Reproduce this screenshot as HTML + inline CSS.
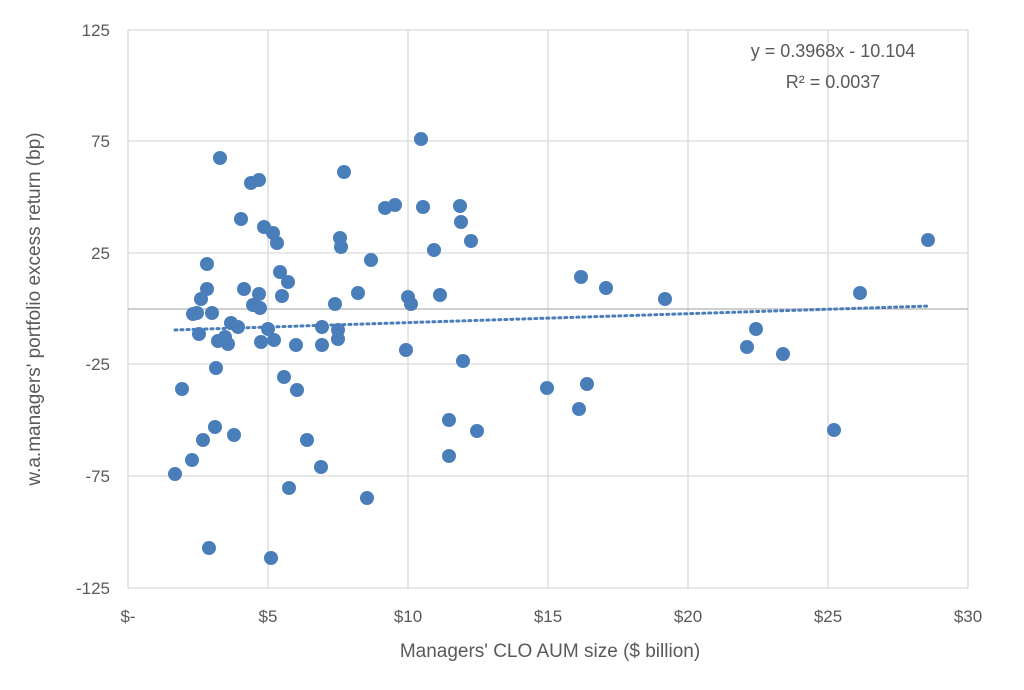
<!DOCTYPE html>
<html><head><meta charset="utf-8"><style>
body{margin:0;background:#fff;}
svg{display:block;font-family:"Liberation Sans",sans-serif;}
</style></head><body>
<svg width="1024" height="690" viewBox="0 0 1024 690">
<g stroke="#d9d9d9" stroke-width="1.3">
<line x1="128" y1="30" x2="968" y2="30"/><line x1="128" y1="141" x2="968" y2="141"/>
<line x1="128" y1="253" x2="968" y2="253"/>
<line x1="128" y1="364" x2="968" y2="364"/>
<line x1="128" y1="476" x2="968" y2="476"/>
<line x1="128" y1="588" x2="968" y2="588"/>
<line x1="268" y1="30" x2="268" y2="588"/><line x1="408" y1="30" x2="408" y2="588"/>
<line x1="548" y1="30" x2="548" y2="588"/><line x1="688" y1="30" x2="688" y2="588"/>
<line x1="828" y1="30" x2="828" y2="588"/><line x1="968" y1="30" x2="968" y2="588"/>
<line x1="128" y1="30" x2="128" y2="588"/>
</g>
<line x1="128" y1="309" x2="968" y2="309" stroke="#bfbfbf" stroke-width="1.5"/>
<g fill="#595959" font-size="17" text-anchor="end">
<text x="110" y="36">125</text><text x="110" y="147">75</text><text x="110" y="259">25</text>
<text x="110" y="370">-25</text><text x="110" y="482">-75</text><text x="110" y="594">-125</text>
</g>
<g fill="#595959" font-size="17" text-anchor="middle">
<text x="128" y="622">$-</text><text x="268" y="622">$5</text><text x="408" y="622">$10</text>
<text x="548" y="622">$15</text><text x="688" y="622">$20</text><text x="828" y="622">$25</text><text x="968" y="622">$30</text>
<text x="550" y="657" font-size="19">Managers' CLO AUM size ($ billion)</text>
<text transform="translate(40,309) rotate(-90)" font-size="19">w.a.managers' portfolio excess return (bp)</text>
<text x="833" y="57" font-size="18">y = 0.3968x - 10.104</text>
<text x="833" y="88" font-size="18">R² = 0.0037</text>
</g>
<g fill="#4a7ebb">
<circle cx="175" cy="474" r="7"/><circle cx="182" cy="389" r="7"/><circle cx="192" cy="460" r="7"/><circle cx="209" cy="548" r="7"/><circle cx="271" cy="558" r="7"/><circle cx="193" cy="314" r="7"/><circle cx="197" cy="313" r="7"/><circle cx="199" cy="334" r="7"/><circle cx="201" cy="299" r="7"/><circle cx="207" cy="289" r="7"/><circle cx="207" cy="264" r="7"/><circle cx="212" cy="313" r="7"/><circle cx="216" cy="368" r="7"/><circle cx="215" cy="427" r="7"/><circle cx="218" cy="341" r="7"/><circle cx="220" cy="158" r="7"/><circle cx="203" cy="440" r="7"/><circle cx="225" cy="337" r="7"/><circle cx="228" cy="344" r="7"/><circle cx="231" cy="323" r="7"/><circle cx="234" cy="435" r="7"/><circle cx="238" cy="327" r="7"/><circle cx="241" cy="219" r="7"/><circle cx="244" cy="289" r="7"/><circle cx="251" cy="183" r="7"/><circle cx="253" cy="305" r="7"/><circle cx="259" cy="180" r="7"/><circle cx="259" cy="294" r="7"/><circle cx="260" cy="308" r="7"/><circle cx="264" cy="227" r="7"/><circle cx="261" cy="342" r="7"/><circle cx="268" cy="329" r="7"/><circle cx="273" cy="233" r="7"/><circle cx="274" cy="340" r="7"/><circle cx="277" cy="243" r="7"/><circle cx="280" cy="272" r="7"/><circle cx="282" cy="296" r="7"/><circle cx="284" cy="377" r="7"/><circle cx="288" cy="282" r="7"/><circle cx="289" cy="488" r="7"/><circle cx="296" cy="345" r="7"/><circle cx="297" cy="390" r="7"/><circle cx="307" cy="440" r="7"/><circle cx="321" cy="467" r="7"/><circle cx="322" cy="327" r="7"/><circle cx="322" cy="345" r="7"/><circle cx="335" cy="304" r="7"/><circle cx="338" cy="330" r="7"/><circle cx="338" cy="339" r="7"/><circle cx="340" cy="238" r="7"/><circle cx="341" cy="247" r="7"/><circle cx="344" cy="172" r="7"/><circle cx="358" cy="293" r="7"/><circle cx="367" cy="498" r="7"/><circle cx="371" cy="260" r="7"/><circle cx="385" cy="208" r="7"/><circle cx="395" cy="205" r="7"/><circle cx="406" cy="350" r="7"/><circle cx="408" cy="297" r="7"/><circle cx="411" cy="304" r="7"/><circle cx="421" cy="139" r="7"/><circle cx="423" cy="207" r="7"/><circle cx="434" cy="250" r="7"/><circle cx="440" cy="295" r="7"/><circle cx="449" cy="420" r="7"/><circle cx="449" cy="456" r="7"/><circle cx="460" cy="206" r="7"/><circle cx="461" cy="222" r="7"/><circle cx="463" cy="361" r="7"/><circle cx="471" cy="241" r="7"/><circle cx="477" cy="431" r="7"/><circle cx="547" cy="388" r="7"/><circle cx="579" cy="409" r="7"/><circle cx="581" cy="277" r="7"/><circle cx="587" cy="384" r="7"/><circle cx="606" cy="288" r="7"/><circle cx="665" cy="299" r="7"/><circle cx="747" cy="347" r="7"/><circle cx="756" cy="329" r="7"/><circle cx="783" cy="354" r="7"/><circle cx="834" cy="430" r="7"/><circle cx="860" cy="293" r="7"/><circle cx="928" cy="240" r="7"/>
</g>
<line x1="175" y1="330" x2="930" y2="306" stroke="#4a7ebb" stroke-width="3" stroke-dasharray="2 4" stroke-linecap="round"/>
</svg>
</body></html>
